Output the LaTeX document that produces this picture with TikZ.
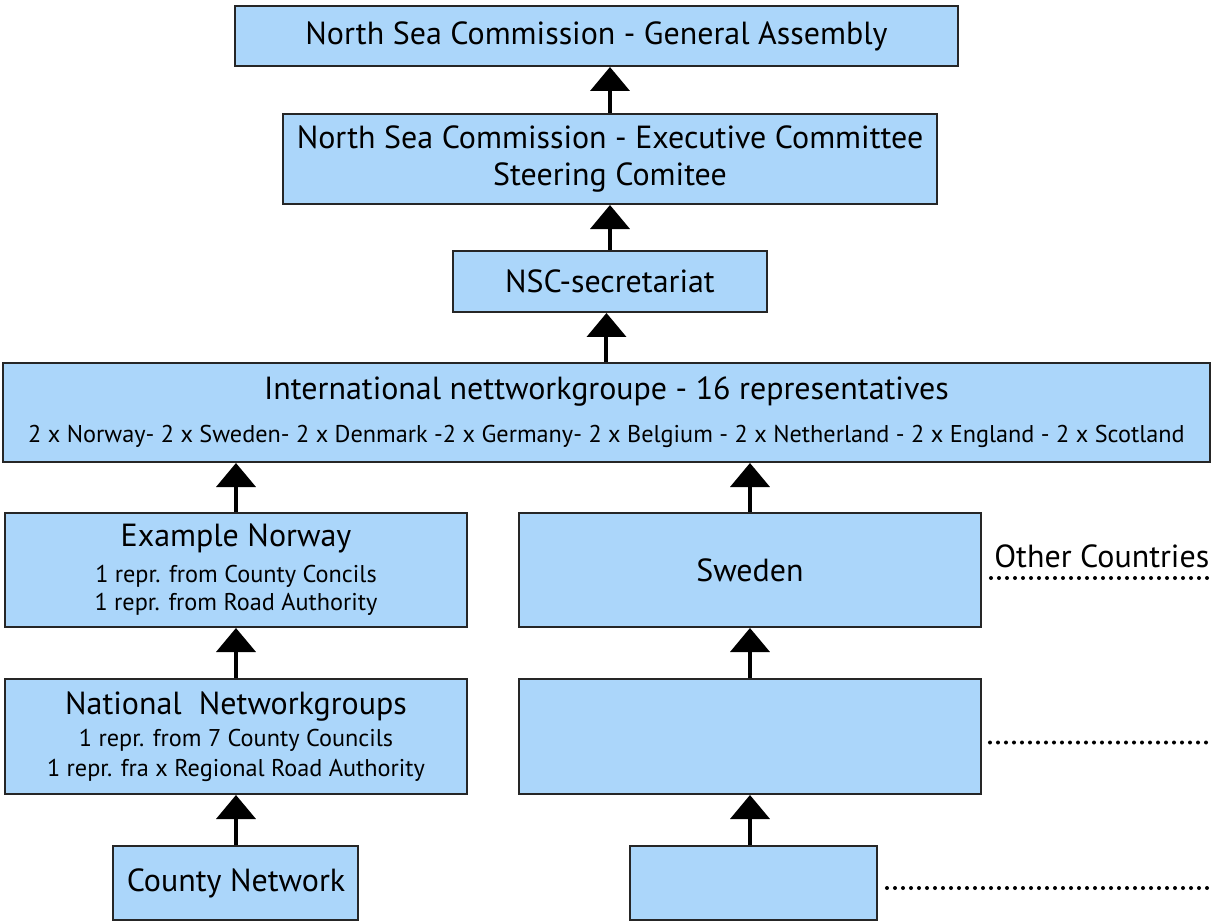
\documentclass[tikz,border=0pt]{standalone}
\usepackage{fontspec}
\setmainfont{PT Sans}
\usetikzlibrary{positioning, arrows.meta}
\definecolor{boxblue}{RGB}{171,214,250}
\newcommand\bigtxt{\fontsize{18.2}{21.5}\selectfont}
\newcommand\smtxt{\fontsize{13.8}{16}\selectfont}
\tikzset{
	orgbox/.style={
		rectangle, draw=black!85, line width=0.04cm, fill=boxblue,
		align=center, inner sep=0pt, font=\bigtxt
	},
	uparrow/.style={-{Triangle[width=0.78cm,length=0.48cm]}, line width=0.08cm},
	dots/.style={line width=0.08cm, line cap=round, dash pattern=on 0pt off 0.16cm},
	other/.style={font=\bigtxt, inner sep=0pt}
}
\begin{document}
\begin{tikzpicture}[node distance=1cm, auto]
	\useasboundingbox (-12.13,-10.19) rectangle (12.13,8.25);
	\node [orgbox, minimum width=24.14cm, minimum height=1.98cm] (intl) {International nettworkgroupe - 16 representatives\\[3pt]{\smtxt 2 x Norway- 2 x Sweden- 2 x Denmark -2 x Germany- 2 x Belgium - 2 x Netherland - 2 x England - 2 x Scotland}};
	\node [orgbox, minimum width=6.28cm, minimum height=1.22cm, above=0.98cm of intl, xshift=0.07cm] (secr) {NSC-secretariat};
	\node [orgbox, minimum width=13.08cm, minimum height=1.8cm, above=0.9cm of secr] (exec) {North Sea Commission - Executive Committee\\Steering Comitee};
	\node [orgbox, minimum width=14.46cm, minimum height=1.2cm, above=0.92cm of exec, xshift=-0.27cm] (assembly) {North Sea Commission - General Assembly};
	
	\node [orgbox, minimum width=9.24cm, minimum height=2.28cm, below right=0.98cm and 0.04cm of intl.south west] (norway) {Example Norway\\[-1pt]{\smtxt 1 repr. from County Concils}\\[-5.5pt]{\smtxt 1 repr. from Road Authority}};
	\node [orgbox, minimum width=9.24cm, minimum height=2.28cm, right=1cm of norway] (sweden) {Sweden};
	\node [orgbox, minimum width=9.24cm, minimum height=2.3cm, below=1cm of norway] (national) {National~ Networkgroups\\[-3pt]{\smtxt 1 repr. from 7 County Councils}\\[-4.5pt]{\smtxt 1 repr. fra x Regional Road Authority}};
	\node [orgbox, minimum width=9.24cm, minimum height=2.3cm, right=1cm of national] (blankmid) {};
	\node [orgbox, minimum width=4.9cm, minimum height=1.48cm, below=1cm of national] (county) {County Network};
	\node [orgbox, minimum width=4.94cm, minimum height=1.48cm, below=1cm of blankmid, xshift=0.07cm] (blanklow) {};
	
	\node [other, anchor=base west] (othertxt) at ([xshift=0.24cm, yshift=0.04cm] sweden.east) {Other Countries};
	\coordinate [right=0.18cm of sweden.east, yshift=-0.16cm] (dotsa);
	\coordinate [right=0.16cm of blankmid.east, yshift=-0.12cm] (dotsb);
	\coordinate [right=0.18cm of blanklow.east, yshift=-0.1cm] (dotsc);
	
	\draw [uparrow] (exec) -- (exec |- assembly.south);
	\draw [uparrow] (secr) -- (exec);
	\draw [uparrow] (intl.north) -- (intl.north |- secr.south);
	\draw [uparrow] (norway) -- (norway |- intl.south);
	\draw [uparrow] (sweden) -- (sweden |- intl.south);
	\draw [uparrow] (national) -- (norway);
	\draw [uparrow] (blankmid) -- (sweden);
	\draw [uparrow] (county) -- (national);
	\draw [uparrow] (blanklow.north -| blankmid) -- (blankmid);
	
	\draw [dots] (dotsa) -- ([xshift=-0.06cm] dotsa -| intl.east);
	\draw [dots] (dotsb) -- ([xshift=-0.06cm] dotsb -| intl.east);
	\draw [dots] (dotsc) -- ([xshift=-0.06cm] dotsc -| intl.east);
\end{tikzpicture}
\end{document}
